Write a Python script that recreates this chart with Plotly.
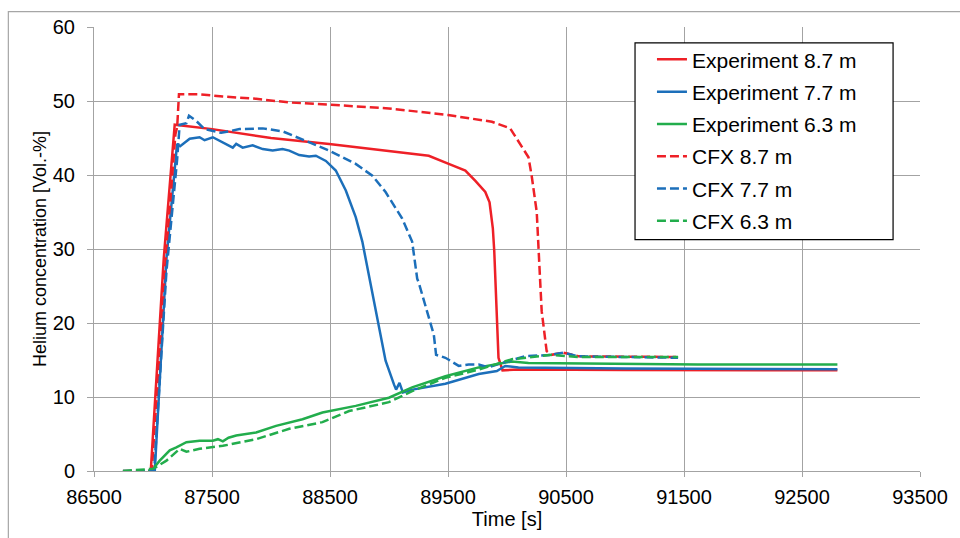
import plotly.graph_objects as go

# Helium concentration time histories: experiment vs. CFX at three heights
exp87_t = [86960, 86981, 87091, 87184, 87502, 88000, 88493, 88999, 89337, 89506, 89647, 89732,
           89816, 89852, 89880, 89892, 89900, 89928, 89962, 90100, 91000, 92000, 92800]
exp87_c = [0, 0, 28.7, 46.8, 46.2, 45.0, 44.2, 43.3, 42.6, 41.5, 40.6, 39.2,
           37.7, 36.3, 32.8, 29.7, 26.0, 15.3, 13.6, 13.7, 13.65, 13.6, 13.6]

exp77_t = [86960, 87015, 87114, 87204, 87230, 87311, 87395, 87437, 87507, 87592, 87676, 87705,
           87760, 87845, 87930, 88014, 88098, 88155, 88239, 88323, 88380, 88465, 88549, 88634,
           88718, 88774, 88830, 88915, 88971, 89042, 89060, 89089, 89118, 89200, 89478, 89760,
           89914, 89985, 90097, 91000, 92000, 92800]
exp77_c = [0, 0, 28.7, 44.2, 43.9, 44.9, 45.1, 44.7, 45.1, 44.4, 43.7, 44.2,
           43.7, 44.0, 43.5, 43.3, 43.5, 43.3, 42.7, 42.5, 42.6, 41.9, 40.6, 37.9,
           34.3, 31.0, 26.5, 19.3, 14.9, 11.7, 11.0, 11.9, 10.6, 11.0, 11.8, 13.1,
           13.5, 14.2, 14.0, 13.85, 13.8, 13.75]

exp63_t = [86960, 87001, 87057, 87142, 87198, 87283, 87395, 87507, 87550, 87592, 87640, 87705,
           87874, 88043, 88267, 88436, 88718, 88999, 89196, 89478, 89760, 90041, 90182, 91000,
           91617, 92800]
exp63_c = [0, 0.3, 1.4, 2.8, 3.2, 3.9, 4.1, 4.1, 4.3, 4.0, 4.5, 4.8,
           5.2, 6.1, 7.0, 7.9, 8.8, 9.9, 11.3, 12.8, 14.0, 14.8, 14.6, 14.5,
           14.4, 14.4]

cfx87_t = [86745, 86990, 87100, 87190, 87205, 87220, 87395, 87592, 87874, 88155, 88493, 88999,
           89500, 89872, 90027, 90097, 90182, 90209, 90252, 90280, 90294, 90336, 90378, 90477,
           90604, 91450]
cfx87_c = [0, 0, 27.0, 45.5, 46.5, 50.9, 50.9, 50.6, 50.3, 49.8, 49.5, 49.0,
           48.1, 47.2, 46.3, 44.6, 42.4, 39.9, 35.0, 26.0, 21.6, 16.2, 15.7, 16.0,
           15.5, 15.4]

cfx77_t = [86745, 87010, 87114, 87204, 87226, 87283, 87305, 87367, 87437, 87578, 87733, 87930,
           88098, 88267, 88493, 88718, 88859, 88971, 89112, 89196, 89239, 89253, 89323, 89380,
           89399, 89478, 89520, 89591, 89675, 89760, 89844, 89956, 90153, 90378, 90477, 90604,
           91450]
cfx77_c = [0, 0, 27.0, 42.0, 46.8, 47.0, 48.0, 47.3, 46.2, 45.7, 46.2, 46.3,
           45.9, 44.8, 43.3, 41.5, 39.9, 37.7, 34.1, 31.0, 26.0, 25.4, 21.6, 18.4,
           15.7, 15.3, 14.9, 14.2, 14.4, 14.4, 14.0, 14.6, 15.5, 15.7, 16.0, 15.5,
           15.3]

cfx63_t = [86745, 87001, 87114, 87226, 87283, 87395, 87592, 87874, 88155, 88436, 88662, 88999,
           89196, 89478, 89760, 90041, 90378, 90604, 91450]
cfx63_c = [0, 0.3, 1.4, 3.0, 2.6, 3.0, 3.4, 4.3, 5.7, 6.6, 8.1, 9.3,
           10.8, 12.6, 13.7, 15.1, 15.7, 15.4, 15.4]

x_ticks = [86500, 87500, 88500, 89500, 90500, 91500, 92500, 93500]
y_ticks = [0, 10, 20, 30, 40, 50, 60]

RED, BLUE, GREEN = "#EE2027", "#1C6FBA", "#22AD4C"
FONT = "Liberation Sans, Arial, sans-serif"
GRID = "#A3A3A3"

series = [
    ("Experiment 8.7 m", exp87_t, exp87_c, RED, "solid"),
    ("Experiment 7.7 m", exp77_t, exp77_c, BLUE, "solid"),
    ("Experiment 6.3 m", exp63_t, exp63_c, GREEN, "solid"),
    ("CFX 8.7 m", cfx87_t, cfx87_c, RED, "9px,4px"),
    ("CFX 7.7 m", cfx77_t, cfx77_c, BLUE, "9px,4px"),
    ("CFX 6.3 m", cfx63_t, cfx63_c, GREEN, "9px,4px"),
]

fig = go.Figure()
for name, t, c, color, dash in series:
    fig.add_trace(go.Scatter(
        x=t, y=c, name=name, mode="lines", legendgroup=name,
        line=dict(color=color, width=2.5, dash=dash),
    ))

fig.update_layout(
    width=960, height=538,
    margin=dict(l=94, r=37, t=27, b=64),
    paper_bgcolor="white", plot_bgcolor="white",
    font=dict(family=FONT, color="black"),
    showlegend=True,
    legend=dict(
        x=0.6755, y=0.9725, xanchor="left", yanchor="top",
        bgcolor="rgba(0,0,0,0)", borderwidth=0,
        font=dict(size=21, family=FONT, color="black"),
        tracegroupgap=2,
    ),
    shapes=[
        # outer chart frame
        dict(type="rect", xref="paper", yref="paper",
             x0=-0.1037, x1=1.3, y0=-0.4, y1=1.0347,
             line=dict(color="#A6A6A6", width=1.2), layer="below"),
        # legend frame
        dict(type="rect", xref="paper", yref="paper",
             x0=0.655, x1=0.9674, y0=0.5213, y1=0.9642,
             line=dict(color="black", width=1.2), fillcolor="white", layer="above"),
    ],
)

fig.update_xaxes(
    range=[86500, 93500], tickvals=x_ticks, ticktext=[str(v) for v in x_ticks],
    showgrid=True, gridcolor=GRID, gridwidth=1,
    showline=True, linecolor=GRID, linewidth=1,
    ticks="outside", ticklen=5, tickcolor=GRID, tickwidth=1,
    tickfont=dict(size=20, family=FONT, color="black"),
    ticklabelstandoff=3,
    zeroline=False,
    title=dict(text="Time [s]", font=dict(size=20, family=FONT, color="black"), standoff=4),
)
fig.update_yaxes(
    range=[0, 60], tickvals=y_ticks,
    showgrid=True, gridcolor=GRID, gridwidth=1,
    showline=True, linecolor=GRID, linewidth=1,
    ticks="outside", ticklen=6, tickcolor=GRID, tickwidth=1,
    tickfont=dict(size=20, family=FONT, color="black"),
    ticklabelstandoff=8,
    zeroline=False,
    title=dict(text="Helium concentration [Vol.-%]", font=dict(size=18, family=FONT, color="black"),
               standoff=1),
)

fig.write_html("out.html")
